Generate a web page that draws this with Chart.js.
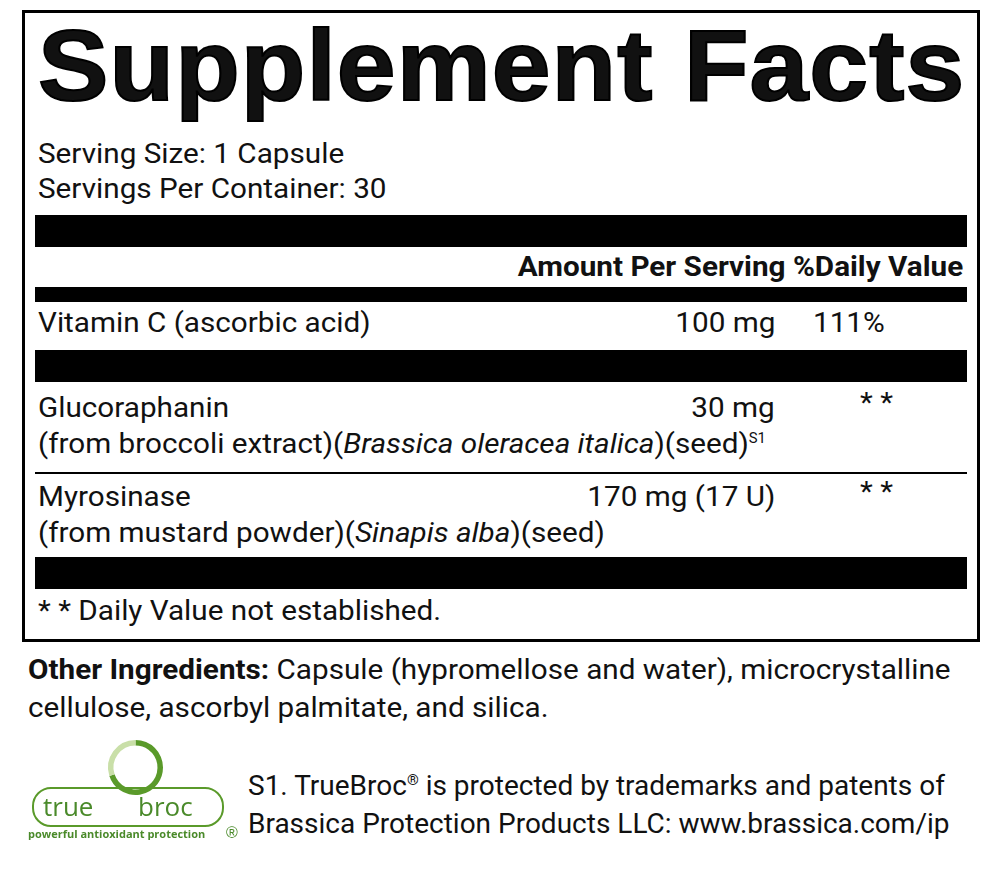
<!DOCTYPE html>
<html><head><meta charset="utf-8">
<script src="https://cdn.jsdelivr.net/npm/chart.js@4"></script>
<style>
body{margin:0;width:1000px;height:883px;background:#fff;font-family:Roboto,"Liberation Sans",sans-serif;color:#111;position:relative;overflow:hidden}
.a{position:absolute;white-space:nowrap;font-size:28px;line-height:1}
.bar{position:absolute;background:#000;left:35px;width:932px}
#box{position:absolute;left:22px;top:10px;width:952px;height:626px;border:3px solid #000}
#title{position:absolute;left:38px;top:8px;font:900 100px "Liberation Sans",Arial,sans-serif;transform-origin:0 0;letter-spacing:1px;-webkit-text-stroke:2px #000}
.c{transform:scaleX(1.06);transform-origin:0 0}
.r{transform:scaleX(1.06);transform-origin:100% 0}
</style></head><body>
<div id="box"></div>
<div id="title">Supplement Facts</div>
<div id="rows"></div>
<div style="position:absolute;left:28px;top:740px;width:215px;height:100px"><canvas id="logo"></canvas></div>
<script>
const servingInfo=["Serving Size: 1 Capsule","Servings Per Container: 30"];
const ingredients=["Vitamin C (ascorbic acid)","Glucoraphanin","Myrosinase"];
const sources=["","(from broccoli extract)(<i>Brassica oleracea italica</i>)(seed)<sup style='font-size:14px'>S1</sup>","(from mustard powder)(<i>Sinapis alba</i>)(seed)"];
const amounts=["100 mg","30 mg","170 mg (17 U)"];
const dailyValues=["111%","**","**"];
const rowTops=[309,394,483];
const logoParts=[70,30];

const t=document.getElementById('title');
t.style.transform='scale('+(927/t.offsetWidth)+',1)';
let h='';
function txt(x,y,s,cls,extra){h+=`<div class="a ${cls||'c'}" style="left:${x}px;top:${y}px;${extra||''}">${s}</div>`;}
function rtxt(r,y,s,extra){h+=`<div class="a r" style="right:${1000-r}px;top:${y}px;${extra||''}">${s}</div>`;}
txt(38,140,servingInfo[0]);txt(38,175,servingInfo[1]);
h+='<div class="bar" style="top:215px;height:32px"></div>';
rtxt(963,253,"Amount Per Serving %Daily Value","font-weight:700");
h+='<div class="bar" style="top:287px;height:15px"></div>';
h+='<div class="bar" style="top:350px;height:32px"></div>';
h+='<div class="bar" style="top:472px;height:2px"></div>';
h+='<div class="bar" style="top:557px;height:32px"></div>';
ingredients.forEach((n,i)=>{const y=rowTops[i];txt(38,y,n);rtxt(775,y,amounts[i]);
  txt(dailyValues[i].startsWith('*')?860:813,y+(dailyValues[i].startsWith('*')?-5:0),dailyValues[i].replace(/\*/g,'* ').trim());
  if(sources[i])txt(38,y+36,sources[i]);});
txt(38,597,"* * Daily Value not established.");
txt(28,656,"<b>Other Ingredients:</b> Capsule (hypromellose and water), microcrystalline");
txt(28,694,"cellulose, ascorbyl palmitate, and silica.");
txt(248,772,"S1. TrueBroc<sup style='font-size:15px'>®</sup> is protected by trademarks and patents of","font-size:28px");
txt(248,810,"Brassica Protection Products LLC: www.brassica.com/ip","font-size:28px");
document.getElementById('rows').innerHTML=h;

new Chart(document.getElementById('logo'),{type:'doughnut',
 data:{labels:['a','b'],datasets:[{data:logoParts,backgroundColor:['#5a9a2a','#c9dfa8'],borderWidth:0}]},
 options:{responsive:true,maintainAspectRatio:false,animation:false,cutout:'80%',plugins:{legend:{display:false},tooltip:{enabled:false}},layout:{padding:{bottom:45,top:0}}},
 plugins:[{id:'lbl',afterDraw(c){const x=c.ctx;x.save();x.strokeStyle='#5a9a2a';x.lineWidth=2;x.beginPath();x.roundRect(5,48,190,38,18);x.stroke();
  x.fillStyle='#4a8a2a';x.font='26px "Open Sans"';x.fillText('true',15,76);x.fillText('broc',110,76);
  x.font='bold 11px "Open Sans"';x.fillText('powerful antioxidant protection',0,98);x.font='16px sans-serif';x.fillText('®',198,98);x.restore();}}]});
</script></body></html>
